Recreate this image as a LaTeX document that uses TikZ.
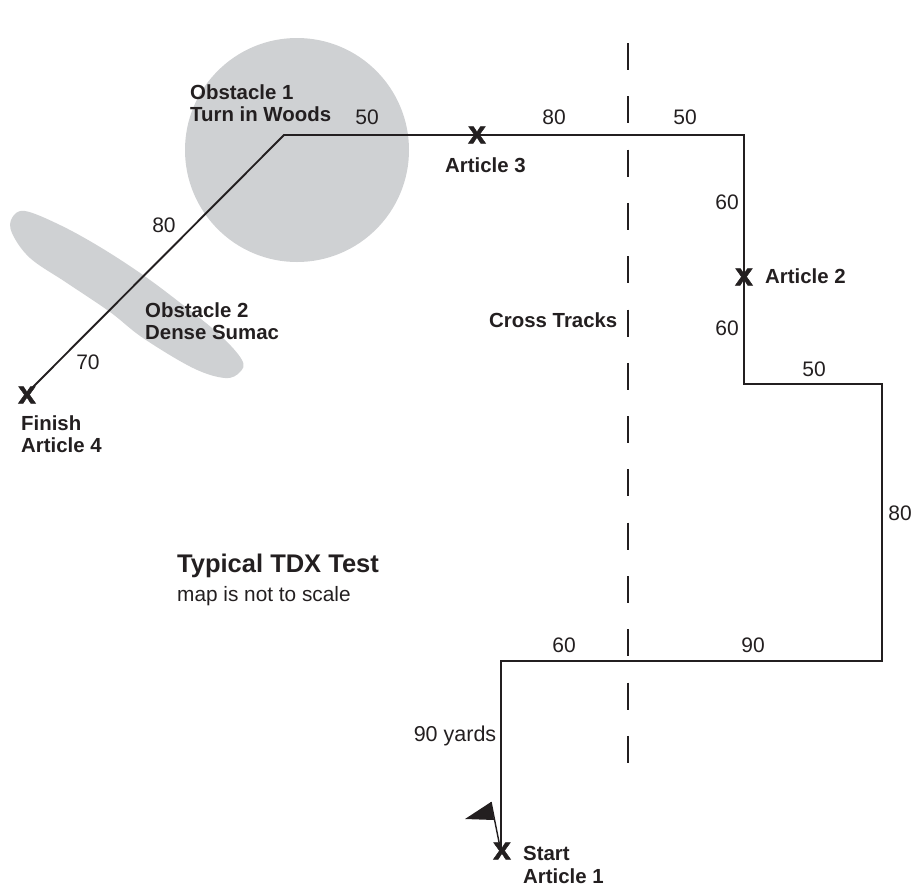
\documentclass[tikz,border=0pt]{standalone}
\usepackage{fontspec}
\setmainfont{Liberation Sans}
\newfontface\markface[FakeBold=1.6]{Liberation Sans Bold}
\usepackage{tikz}
\usetikzlibrary{positioning}
\definecolor{inkblack}{HTML}{231F20}
\definecolor{obstaclegray}{HTML}{CFD1D3}

\begin{document}
\begin{tikzpicture}[
    x=1pt, y=-1pt,
    font=\fontsize{21}{23}\selectfont,
    text=inkblack,
    dist/.style={inner sep=0pt},
    place/.style={inner sep=0pt, align=left, anchor=west, font=\fontsize{20.4}{22.5}\selectfont\bfseries},
    mark x/.style={inner sep=0pt, font=\fontsize{32}{32}\markface},
    course/.style={draw=inkblack, line width=1.9pt, line join=miter},
    crossdash/.style={draw=inkblack, line width=1.5pt},
    obstacle/.style={fill=obstaclegray, draw=none}
]
\useasboundingbox (0,0) rectangle (923,884);

% Obstacles
\fill[obstacle] (297,150) circle (112);
\fill[obstacle] plot[smooth cycle, tension=0.6] coordinates {
  (25,211) (60,225) (100,247) (143,275) (183,305) (220,335) (242,360) (240,372)
  (225,378) (193,368) (143,338) (110,312) (67,283) (30,258) (12,233) (12,218)};

% Cross tracks (dashes)
\foreach \i in {0,...,13}
  \draw[crossdash] (628,43+53.3*\i) -- (628,70+53.3*\i);

% Course corners
\coordinate (p1) at (501,852);
\coordinate (p2) at (501,661);
\coordinate (p3) at (882,661);
\coordinate (p4) at (882,384);
\coordinate (p5) at (744,384);
\coordinate (p6) at (744,135);
\coordinate (p7) at (284,135);
\coordinate (p8) at (27,393);

\draw[course] (p1) -- (p2) -- (p3) -- (p4) -- (p5) -- (p6) -- (p7) -- (p8);

% Flag
\coordinate (f1) at (491,802);
\coordinate (f2) at (465,819);
\coordinate (f3) at (494,820);
\draw[inkblack, line width=1.4pt] (p1) -- (f1);
\fill[inkblack] (f1) -- (f2) -- (f3) -- cycle;

% Articles
\node[mark x] (x1) at (502,851) {x};
\node[mark x] (x2) at (744,277) {x};
\node[mark x] (x3) at (477,135) {x};
\node[mark x] (x4) at (27,395) {x};

\node[place] (start) at (523,865) {Start\\Article 1};
\node[place] (art2) at (765,276) {Article 2};
\node[place] (art3) at (445,165) {Article 3};
\node[place] (finish) at (21,434) {Finish\\Article 4};
\node[place] (obs1) at (190,103) {Obstacle 1\\Turn in Woods};
\node[place] (obs2) at (145,321) {Obstacle 2\\Dense Sumac};
\node[place] (cross) at (489,320) {Cross Tracks};

% Distances
\node[dist, font=\fontsize{21.5}{23}\selectfont] (d1) at (455,736) {90 yards};
\node[dist] (d2) at (564,645) {60};
\node[dist] (d3) at (753,645) {90};
\node[dist] (d4) at (900,513) {80};
\node[dist] (d5) at (814,369) {50};
\node[dist] (d6) at (727,328) {60};
\node[dist] (d7) at (727,202) {60};
\node[dist] (d8) at (685,117) {50};
\node[dist] (d9) at (554,117) {80};
\node[dist] (d10) at (367,117) {50};
\node[dist] (d11) at (164,225) {80};
\node[dist] (d12) at (88,362) {70};

% Title
\node[inner sep=0pt, anchor=west, font=\fontsize{25.5}{25}\selectfont\bfseries] (title) at (177,566) {Typical TDX Test};
\node[inner sep=0pt, anchor=west, font=\fontsize{20.8}{21}\selectfont] (subtitle) at (177,596) {map is not to scale};

\end{tikzpicture}
\end{document}
